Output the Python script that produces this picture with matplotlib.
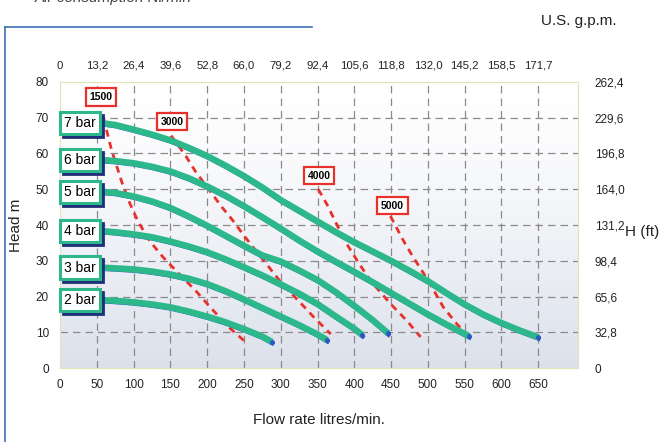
import numpy as np
import matplotlib
matplotlib.use('Agg')
import matplotlib.pyplot as plt
from matplotlib.transforms import offset_copy

plt.rcParams['font.family'] = ['Liberation Sans', 'DejaVu Sans']

# pump curves: flow (l/min) vs head (m) for each air pressure
bars = ['7 bar', '6 bar', '5 bar', '4 bar', '3 bar', '2 bar']
flow_7 = [57, 75, 100, 125, 150, 175, 200, 225, 250, 275, 300, 325, 350, 375,
          400, 425, 450, 475, 500, 525, 550, 575, 600, 625, 650]
head_7 = [68.5, 68.0, 66.7, 65.3, 63.7, 61.6, 59.3, 56.6, 53.7, 50.5, 47.0, 44.0,
          41.0, 38.0, 35.2, 32.6, 30.0, 27.2, 24.3, 21.0, 17.8, 15.0, 12.6, 10.5, 8.6]
flow_6 = [57, 75, 100, 125, 150, 175, 200, 225, 250, 275, 300, 325, 350, 375,
          400, 425, 450, 475, 500, 525, 556]
head_6 = [58.2, 57.9, 57.3, 56.3, 55.0, 53.1, 50.8, 48.2, 45.3, 42.2, 39.0, 35.7,
          32.6, 29.7, 26.9, 24.0, 21.0, 18.0, 15.0, 12.2, 8.9]
flow_5 = [57, 75, 100, 125, 150, 175, 200, 225, 250, 275, 300, 325, 350, 375,
          400, 425, 446]
head_5 = [49.3, 49.0, 48.0, 46.6, 44.8, 42.4, 39.8, 37.0, 34.2, 31.5, 29.8, 27.3,
          24.6, 21.2, 17.4, 13.4, 9.7]
flow_4 = [57, 75, 100, 125, 150, 175, 200, 225, 250, 275, 300, 325, 350, 375, 400, 411]
head_4 = [38.3, 38.0, 37.4, 36.6, 35.4, 34.0, 32.4, 30.4, 28.2, 25.9, 23.4, 20.8,
          17.9, 14.4, 11.0, 9.2]
flow_3 = [57, 75, 100, 125, 150, 175, 200, 225, 250, 275, 300, 325, 350, 363]
head_3 = [28.1, 27.9, 27.6, 27.0, 26.2, 25.0, 23.5, 21.5, 19.2, 16.8, 14.4, 12.0, 9.4, 7.8]
flow_2 = [57, 75, 100, 125, 150, 175, 200, 225, 250, 275, 288]
head_2 = [19.0, 18.8, 18.4, 17.8, 17.0, 15.8, 14.4, 12.8, 10.9, 8.8, 7.3]
flows = [flow_7, flow_6, flow_5, flow_4, flow_3, flow_2]
heads = [head_7, head_6, head_5, head_4, head_3, head_2]

# air consumption lines (Nl/min)
air_labels = ['1500', '3000', '4000', '5000']
air_x_1500 = [59, 70, 84, 95, 106, 122, 140, 162, 184, 206, 229, 252]
air_h_1500 = [70.0, 61.0, 52.0, 46.0, 41.0, 35.5, 31.0, 26.3, 21.7, 16.6, 11.5, 7.3]
air_x_3000 = [151, 170, 184, 202, 220, 234, 252, 279, 302, 326, 345, 368]
air_h_3000 = [65.0, 59.6, 55.0, 50.0, 45.0, 41.5, 36.5, 29.5, 23.5, 18.4, 14.2, 9.5]
air_x_4000 = [351, 363, 376, 390, 404, 422, 449, 471, 490]
air_h_4000 = [50.0, 45.7, 40.2, 34.6, 30.0, 24.4, 18.0, 13.3, 8.7]
air_x_5000 = [449, 467, 480, 494, 508, 521, 539, 545]
air_h_5000 = [42.5, 35.5, 31.0, 26.5, 21.7, 17.0, 12.4, 11.0]
air_xs = [air_x_1500, air_x_3000, air_x_4000, air_x_5000]
air_hs = [air_h_1500, air_h_3000, air_h_4000, air_h_5000]
air_label_pos = [(56, 75.8), (152, 68.9), (352, 53.8), (452, 45.4)]

# axis ticks
flow_ticks = list(range(0, 700, 50))
gpm_labels = ['0', '13,2', '26,4', '39,6', '52,8', '66,0', '79,2', '92,4',
              '105,6', '118,8', '132,0', '145,2', '158,5', '171,7']
head_ticks = list(range(0, 90, 10))
ft_labels = ['0', '32,8', '65,6', '98,4', '131,2', '164,0', '196,8', '229,6', '262,4']

green = '#2db88b'
red = '#e8312b'
navy = '#1f2f7a'

fig = plt.figure(figsize=(6.64, 4.42), dpi=100)
ax = fig.add_axes([0.0904, 0.1674, 0.7801, 0.6471])
ax.set_xlim(0, 704)
ax.set_ylim(0, 80)

# background gradient: white at top, pale blue-grey at bottom
grad = np.linspace(0, 1, 256).reshape(-1, 1) ** 1.4
top_c = np.array([1.0, 1.0, 1.0])
bot_c = np.array([0.86, 0.88, 0.92])
img = top_c + (bot_c - top_c) * grad[:, :, None]
ax.imshow(img, extent=[0, 704, 0, 80], aspect='auto', zorder=0, origin='upper')

# grid
for x in flow_ticks[1:]:
    ax.axvline(x, color='#8a8a8a', lw=0.9, dashes=(6, 4), zorder=1)
for y in head_ticks[1:-1]:
    ax.axhline(y, color='#8a8a8a', lw=0.9, dashes=(6, 4), zorder=1)

# air consumption lines
for xs, hs in zip(air_xs, air_hs):
    ax.plot(xs, hs, color=red, lw=2, dashes=(2.5, 2), zorder=2)
for lab, (x, y) in zip(air_labels, air_label_pos):
    ax.text(x, y, lab, ha='center', va='center', fontsize=7.5, fontweight='bold',
            bbox=dict(boxstyle='square,pad=0.35', fc='white', ec=red, lw=1.6), zorder=6)

# pump curves with a thin blue shadow
shadow = offset_copy(ax.transData, fig=fig, x=0.2, y=-1.0, units='points')
for xs, hs in zip(flows, heads):
    ax.plot(xs, hs, color='#2c55c8', lw=3.0, transform=shadow, zorder=3,
            solid_joinstyle='round')
    ax.plot(xs, hs, color=green, lw=4.6, zorder=4, solid_capstyle='butt',
            solid_joinstyle='round')
    ax.plot(xs[-1], hs[-1], 'o', color='#2c55c8', ms=2.5, zorder=5)

# bar labels
box_sh = offset_copy(ax.transData, fig=fig, x=2, y=-2.2, units='points')
for lab, hs in zip(bars, heads):
    y = hs[0]
    ax.text(27, y, lab, ha='center', va='center', fontsize=10, color=navy,
            transform=box_sh, clip_on=False,
            bbox=dict(boxstyle='square,pad=0.3', fc=navy, ec=navy, lw=2), zorder=6)
    ax.text(27, y, lab, ha='center', va='center', fontsize=10, color='black',
            clip_on=False,
            bbox=dict(boxstyle='square,pad=0.3', fc='white', ec=green, lw=2.2), zorder=7)

for s in ax.spines.values():
    s.set_color('#e6e2b8')
    s.set_linewidth(0.8)
    s.set_linestyle((0, (1, 1)))

ax.set_xticks(flow_ticks)
ax.set_yticks(head_ticks)
ax.tick_params(length=0, labelsize=8.5, colors='#222222')
ax.tick_params(axis='x', pad=8)
ax.tick_params(axis='y', pad=8)
ax.set_xlabel('Flow rate litres/min.', fontsize=11, labelpad=16, color='#222222')
ax.set_ylabel('Head m', fontsize=11, labelpad=9, color='#222222')

top = ax.secondary_xaxis('top')
top.set_xticks(flow_ticks)
top.set_xticklabels(gpm_labels)
top.tick_params(length=0, labelsize=8.2, pad=8, colors='#222222')
top.spines['top'].set_visible(False)

right = ax.secondary_yaxis('right')
right.set_yticks(head_ticks)
right.set_yticklabels(ft_labels)
right.tick_params(length=0, labelsize=8.5, pad=12, colors='#222222')
right.spines['right'].set_visible(False)

fig.text(0.941, 0.475, 'H (ft)', fontsize=11, ha='left', va='center', color='#222222')
fig.text(0.815, 0.953, 'U.S. g.p.m.', fontsize=11, ha='left', va='center', color='#222222')
fig.text(0.053, 1.004, 'Air consumption Nl/min', fontsize=11, style='italic',
         ha='left', va='center', color='#444444')

# outer frame lines
fig.add_artist(plt.Line2D([0.008, 0.47], [0.939, 0.939], color='#3d6fb5', lw=1.2))
fig.add_artist(plt.Line2D([0.008, 0.008], [0.0, 0.939], color='#3d6fb5', lw=1.2))

fig.savefig('out.png', dpi=100)
